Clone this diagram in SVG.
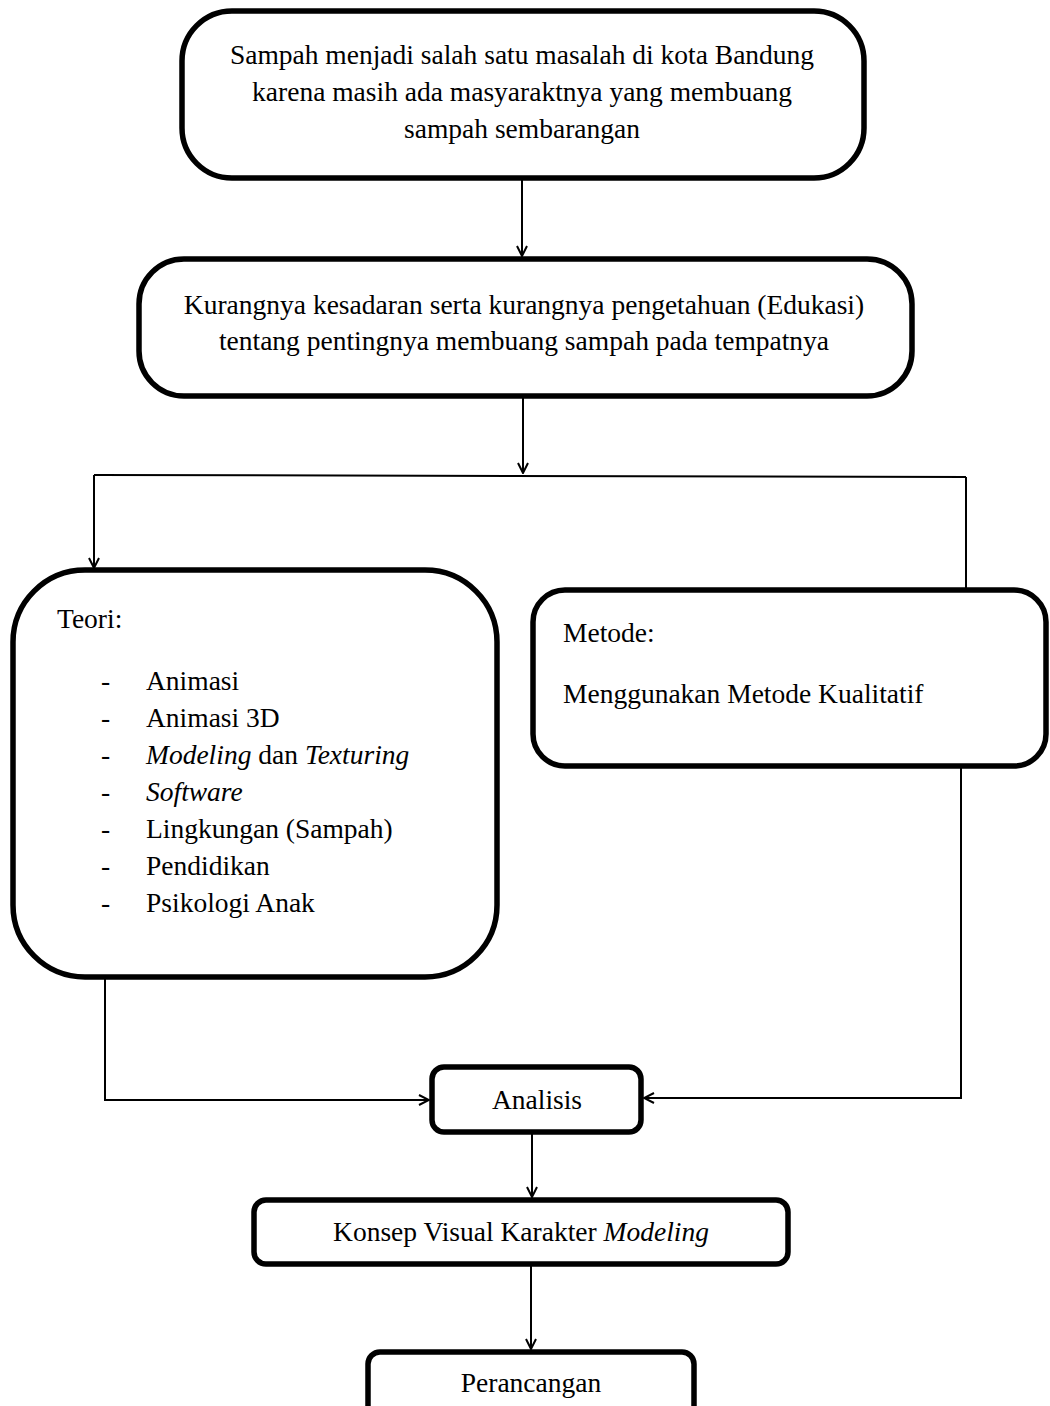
<svg xmlns="http://www.w3.org/2000/svg" width="1050" height="1406" viewBox="0 0 1050 1406">
<defs>
<style>
.box{fill:#fff;stroke:#000;stroke-width:5.5}
.ln{fill:none;stroke:#000;stroke-width:2}
text{font-family:"Liberation Serif","Times New Roman",serif;font-size:27.5px;fill:#000}
.c{text-anchor:middle}
</style>
<marker id="arr" viewBox="0 0 12 12" refX="11" refY="6" markerWidth="12" markerHeight="12" markerUnits="userSpaceOnUse" orient="auto">
<path d="M1,1 L11,6 L1,11" fill="none" stroke="#000" stroke-width="2"/>
</marker>
</defs>
<rect width="1050" height="1406" fill="#fff"/>
<g id="connectors">
<path class="ln" d="M522,180 V256" marker-end="url(#arr)"/>
<path class="ln" d="M523,398 V473" marker-end="url(#arr)"/>
<path class="ln" d="M94,475 L966,477"/>
<path class="ln" d="M94,475 V568" marker-end="url(#arr)"/>
<path class="ln" d="M966,477 V590"/>
<path class="ln" d="M105,978 V1100 H429" marker-end="url(#arr)"/>
<path class="ln" d="M961,767 V1098 H644" marker-end="url(#arr)"/>
<path class="ln" d="M532,1134 V1197" marker-end="url(#arr)"/>
<path class="ln" d="M531,1266 V1349" marker-end="url(#arr)"/>
</g>
<g id="n1">
<rect class="box" x="182" y="11" width="682" height="167" rx="50"/>
<text class="c" x="522" y="64">Sampah menjadi salah satu masalah di kota Bandung</text>
<text class="c" x="522" y="101">karena masih ada masyaraktnya yang membuang</text>
<text class="c" x="522" y="138">sampah sembarangan</text>
</g>
<g id="n2">
<rect class="box" x="139" y="259" width="773" height="137" rx="45"/>
<text class="c" x="524" y="314">Kurangnya kesadaran serta kurangnya pengetahuan (Edukasi)</text>
<text class="c" x="524" y="350">tentang pentingnya membuang sampah pada tempatnya</text>
</g>
<g id="teori">
<rect class="box" x="13" y="570" width="484" height="407" rx="72"/>
<text x="57" y="628">Teori:</text>
<text x="101" y="690">-</text><text x="146" y="690">Animasi</text>
<text x="101" y="727">-</text><text x="146" y="727">Animasi 3D</text>
<text x="101" y="764">-</text><text x="146" y="764"><tspan font-style="italic">Modeling</tspan> dan <tspan font-style="italic">Texturing</tspan></text>
<text x="101" y="801">-</text><text x="146" y="801" font-style="italic">Software</text>
<text x="101" y="838">-</text><text x="146" y="838">Lingkungan (Sampah)</text>
<text x="101" y="875">-</text><text x="146" y="875">Pendidikan</text>
<text x="101" y="912">-</text><text x="146" y="912">Psikologi Anak</text>
</g>
<g id="metode">
<rect class="box" x="533" y="590" width="513" height="176" rx="32"/>
<text x="563" y="642">Metode:</text>
<text x="563" y="703">Menggunakan Metode Kualitatif</text>
</g>
<g id="analisis">
<rect class="box" x="432" y="1067" width="209" height="65" rx="12"/>
<text class="c" x="537" y="1109">Analisis</text>
</g>
<g id="konsep">
<rect class="box" x="254" y="1200" width="534" height="64" rx="12"/>
<text class="c" x="521" y="1241">Konsep Visual Karakter <tspan font-style="italic">Modeling</tspan></text>
</g>
<g id="perancangan">
<rect class="box" x="368" y="1352" width="326" height="70" rx="12"/>
<text class="c" x="531" y="1392">Perancangan</text>
</g>
</svg>
